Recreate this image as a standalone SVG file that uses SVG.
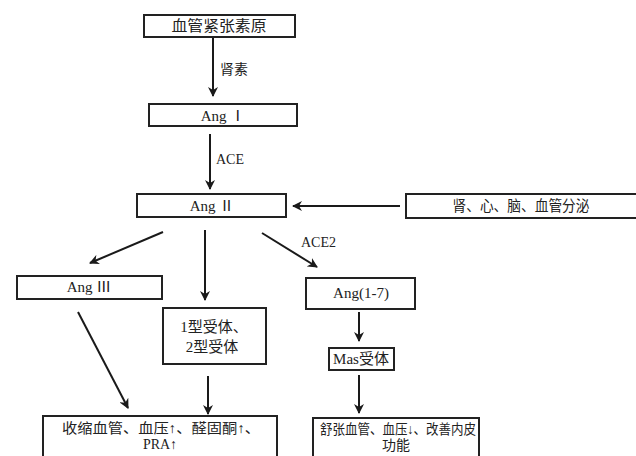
<svg xmlns="http://www.w3.org/2000/svg" width="636" height="456" viewBox="0 0 636 456">
<defs>
<marker id="ah" viewBox="0 0 10 10" refX="9" refY="5" markerWidth="5" markerHeight="5" orient="auto" markerUnits="strokeWidth">
<path d="M0,0 L10,5 L0,10 L3,5 Z" fill="#1a1a1a"/>
</marker>
<style>
.box{fill:#fff;stroke:#222;stroke-width:2}
.t{font-family:"Liberation Serif","Noto Sans CJK SC",serif;font-size:15px;fill:#222;text-anchor:middle}
.s{font-size:14px}
.lbl{font-family:"Liberation Serif","Noto Sans CJK SC",serif;font-size:14px;fill:#222}
.c{stroke:#1a1a1a;stroke-width:2;fill:none;marker-end:url(#ah)}
</style>
</defs>
<rect width="636" height="456" fill="#fff"/>
<g id="connectors">
<line class="c" x1="213" y1="37" x2="213" y2="96"/>
<line class="c" x1="210" y1="134" x2="210" y2="189"/>
<line class="c" x1="400" y1="206" x2="293" y2="206"/>
<line class="c" x1="163" y1="232" x2="90" y2="263"/>
<line class="c" x1="205" y1="230" x2="205" y2="300"/>
<line class="c" x1="262" y1="233" x2="317" y2="267"/>
<line class="c" x1="359" y1="312" x2="359" y2="341"/>
<line class="c" x1="359" y1="375" x2="359" y2="413"/>
<line class="c" x1="78" y1="312" x2="128" y2="408"/>
<line class="c" x1="208" y1="376" x2="208" y2="414"/>
<text class="lbl" x="220" y="74">肾素</text>
<text class="lbl" x="216" y="164">ACE</text>
<text class="lbl" x="301" y="247">ACE2</text>
</g>
<g id="n1"><rect class="box" x="144" y="15" width="151" height="22"/><text class="t" x="219" y="31" textLength="95" lengthAdjust="spacingAndGlyphs">血管紧张素原</text></g>
<g id="n2"><rect class="box" x="149" y="104" width="148" height="22"/><text class="t" x="223" y="121">Ang Ⅰ</text></g>
<g id="n3"><rect class="box" x="137" y="194" width="149" height="23"/><text class="t" x="212" y="211">Ang Ⅱ</text></g>
<g id="n4"><rect class="box" x="406" y="194" width="231" height="24"/><text class="t" x="521" y="211" textLength="137" lengthAdjust="spacingAndGlyphs">肾、心、脑、血管分泌</text></g>
<g id="n5"><rect class="box" x="17" y="276" width="145" height="23"/><text class="t" x="89" y="292">Ang Ⅲ</text></g>
<g id="n6"><rect class="box" x="163" y="308" width="103" height="56"/><text class="t" x="214" y="332">1型受体、</text><text class="t" x="212" y="352">2型受体</text></g>
<g id="n7"><rect class="box" x="306" y="278" width="109" height="31"/><text class="t" x="361" y="298">Ang(1-7)</text></g>
<g id="n8"><rect class="box" x="329" y="348" width="65" height="22"/><text class="t" x="361" y="364">Mas受体</text></g>
<g id="n9"><rect class="box" x="43" y="416" width="234" height="50"/><text class="t s" x="161" y="433" textLength="198" lengthAdjust="spacingAndGlyphs">收缩血管、血压↑、醛固酮↑、</text><text class="t s" x="160" y="449">PRA↑</text></g>
<g id="n10"><rect class="box" x="313" y="418" width="166" height="50"/><text class="t s" x="398" y="434" textLength="156" lengthAdjust="spacingAndGlyphs">舒张血管、血压↓、改善内皮</text><text class="t s" x="396" y="450">功能</text></g>
</svg>
